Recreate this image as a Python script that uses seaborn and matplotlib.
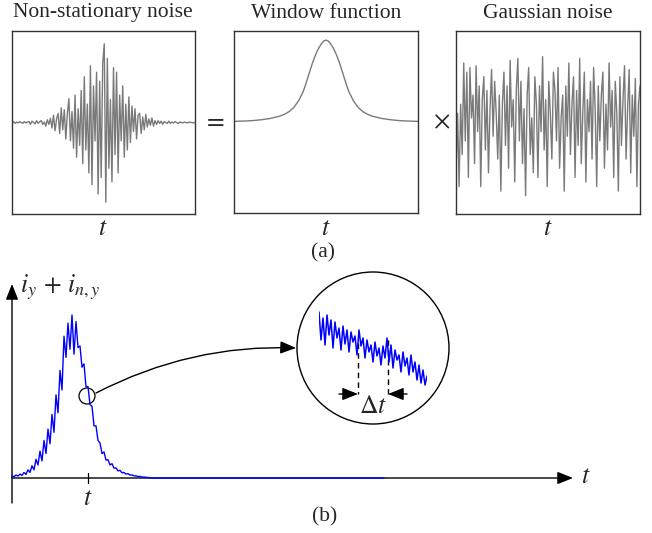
import matplotlib
matplotlib.use("Agg")
import matplotlib.pyplot as plt
import seaborn as sns
import numpy as np
import pandas as pd
from matplotlib.patches import Circle, FancyArrowPatch
from matplotlib.path import Path

# ---- data ----
# (a) non-stationary noise, 120 samples over the window
nonstat_noise = [
    0.00, 0.01, -0.01, 0.005, -0.005, 0.01, 0.00, -0.01, 0.01, -0.005, 0.005, 0.01,
    -0.02, 0.015, 0.00, -0.015, 0.02, -0.01, 0.01, 0.02, -0.02, 0.005,
    -0.04, 0.03, -0.02, 0.045,
    -0.06, 0.08, -0.09, 0.04, 0.10,
    -0.12, 0.16, -0.08, 0.14, -0.18, 0.10,
    0.26, -0.20, 0.12, -0.28,
    0.30, -0.38, 0.15, -0.25, 0.35,
    -0.45, 0.50, -0.30, 0.20, -0.55,
    0.62, -0.68, 0.40, -0.20, 0.55,
    -0.78, 0.45, -0.60, 0.65, 0.86, -0.87,
    0.70, -0.50, 0.25, -0.65, 0.60,
    -0.35, 0.55, -0.55, 0.30, -0.20,
    0.40, -0.38, 0.20, -0.30, 0.28,
    -0.22, 0.18, -0.10, 0.15, -0.18, 0.08,
    0.10, -0.12, 0.06, -0.08, 0.09,
    -0.05, 0.04, -0.03, 0.05, -0.04, 0.02,
    -0.02, 0.02, -0.01, 0.015, -0.02, 0.01, 0.00, -0.01, 0.015, -0.01,
    0.005, -0.005, 0.01, 0.00, -0.01, 0.005, 0.00, -0.005, 0.005, 0.00,
    -0.005, 0.005, 0.00, 0.00, -0.005, 0.00,
]

# (a) window function, left half (t, value); mirrored for the right half
window_t_left = [-1.0, -0.9, -0.8, -0.7, -0.6, -0.5, -0.45, -0.4, -0.35, -0.3,
                 -0.275, -0.25, -0.225, -0.2, -0.175, -0.15, -0.125, -0.1,
                 -0.075, -0.05, -0.025, 0.0]
window_v_left = [0.007, 0.010, 0.015, 0.025, 0.040, 0.065, 0.085, 0.115, 0.16, 0.23,
                 0.28, 0.33, 0.40, 0.48, 0.56, 0.64, 0.71, 0.77,
                 0.82, 0.86, 0.89, 0.90]

# (a) gaussian noise, 120 samples
gauss_noise = [
    -0.55, 0.10, -0.70, 0.20, -0.35, 0.65, -0.20, 0.55, -0.60, 0.60,
    0.05, 0.30, -0.45, 0.62, -0.10, 0.40, -0.70, 0.25, 0.50, -0.30,
    0.35, -0.55, 0.15, 0.58, -0.15, 0.45, 0.10, -0.40, 0.30, -0.75,
    0.20, 0.55, -0.25, 0.40, -0.50, 0.68, -0.05, 0.25, -0.65, 0.35,
    0.70, -0.20, 0.45, -0.45, 0.15, -0.80, 0.30, 0.60, -0.35, 0.05,
    -0.55, 0.50, 0.20, -0.60, 0.40, -0.10, 0.72, -0.30, 0.25, -0.70,
    0.45, 0.10, -0.40, 0.55, 0.35, -0.20, 0.60, -0.50, 0.05, 0.30,
    -0.75, 0.40, -0.15, 0.65, -0.35, 0.20, 0.50, -0.60, 0.35, -0.25,
    0.70, -0.45, 0.10, 0.55, -0.65, 0.25, -0.10, 0.45, -0.40, 0.60,
    0.15, -0.70, 0.40, -0.20, 0.30, 0.55, -0.50, 0.20, -0.30, 0.65,
    -0.05, 0.35, -0.60, 0.45, 0.10, -0.75, 0.50, -0.25, 0.25, 0.62,
    -0.40, 0.15, 0.58, -0.55, 0.30, -0.15, 0.48, -0.70, 0.20, 0.40,
]

# (b) current pulse i_y + i_{n,y} (normalised to peak), then flat tail
pulse = [
    0.012, 0.008, 0.018, 0.012, 0.024, 0.016, 0.034, 0.022, 0.050, 0.034,
    0.075, 0.050, 0.115, 0.080, 0.165, 0.105, 0.230, 0.150, 0.300, 0.210,
    0.390, 0.280, 0.510, 0.400, 0.660, 0.540, 0.870, 0.740, 0.950, 0.790,
    1.000, 0.760, 0.960, 0.800, 0.810, 0.680, 0.700, 0.560, 0.560, 0.450,
    0.440, 0.320, 0.320, 0.230, 0.215, 0.150, 0.160, 0.110, 0.112, 0.080,
    0.088, 0.060, 0.062, 0.044, 0.047, 0.032, 0.034, 0.024, 0.027, 0.018,
    0.019, 0.013, 0.013, 0.009, 0.010, 0.006, 0.006, 0.004, 0.003, 0.002, 0.0,
]
tail_end = 186
tick_t = 38

# (b) zoomed segment of the pulse
zoom_trace = [
    0.88, 0.60, 0.82, 0.55, 0.85, 0.65, 0.80, 0.52, 0.78, 0.62,
    0.72, 0.50, 0.74, 0.56, 0.70, 0.48, 0.68, 0.58, 0.64, 0.45,
    0.70, 0.54, 0.62, 0.42, 0.60, 0.48, 0.55, 0.38, 0.58, 0.44,
    0.52, 0.35, 0.54, 0.42, 0.62, 0.38, 0.55, 0.32, 0.50, 0.40,
    0.45, 0.28, 0.48, 0.34, 0.42, 0.25, 0.45, 0.28, 0.38, 0.20,
    0.35, 0.17, 0.30, 0.15, 0.24,
]

# ---- figure ----
W, H = 652, 533
sns.set_theme(style="white")
plt.rcParams["font.family"] = ["Liberation Serif", "DejaVu Serif"]
plt.rcParams["mathtext.fontset"] = "stix"

fig = plt.figure(figsize=(W / 100, H / 100), dpi=100)
FS = 15.5
MFS = 18.5
GRAY = "#7a7a7a"


def px_axes(x0, y0, x1, y1):
    return fig.add_axes([x0 / W, 1 - y1 / H, (x1 - x0) / W, (y1 - y0) / H])


# overlay in pixel coordinates for annotations
ov = px_axes(0, 0, W, H)
ov.set_xlim(0, W)
ov.set_ylim(H, 0)
ov.axis("off")
ov.set_zorder(0)


def framed(ax):
    ax.set_xticks([])
    ax.set_yticks([])
    ax.set_xlabel("")
    ax.set_ylabel("")
    for s in ax.spines.values():
        s.set_visible(True)
        s.set_color("#333333")
        s.set_linewidth(1.0)
    ax.set_ylim(-1, 1)


# (a) three boxes
ax1 = px_axes(12, 31, 195, 214)
df1 = pd.DataFrame({"t": np.arange(len(nonstat_noise)), "v": nonstat_noise})
sns.lineplot(data=df1, x="t", y="v", ax=ax1, color=GRAY, lw=1.0, estimator=None)
ax1.set_xlim(0, len(nonstat_noise) - 1)
framed(ax1)

window_t = window_t_left + [-t for t in reversed(window_t_left[:-1])]
window_v = window_v_left + list(reversed(window_v_left[:-1]))
ax2 = px_axes(234, 31, 418, 213)
sns.lineplot(x=window_t, y=window_v, ax=ax2, color=GRAY, lw=1.0, estimator=None)
ax2.set_xlim(-1, 1)
framed(ax2)

ax3 = px_axes(456, 31, 640, 214)
df3 = pd.DataFrame({"t": np.arange(len(gauss_noise)), "v": gauss_noise})
sns.lineplot(data=df3, x="t", y="v", ax=ax3, color=GRAY, lw=1.0, estimator=None)
ax3.set_xlim(0, len(gauss_noise) - 1)
framed(ax3)

titles = ["Non-stationary noise", "Window function", "Gaussian noise"]
for cx, title in zip([103, 326, 548], titles):
    ov.text(cx, 13, title, ha="center", va="center", fontsize=FS)
    ov.text(cx, 229, "$t$", ha="center", va="center", fontsize=MFS)
ov.text(214, 121, "$=$", ha="center", va="center", fontsize=MFS)
ov.text(442, 122, r"$\times$", ha="center", va="center", fontsize=MFS)
ov.text(323, 253, "(a)", ha="center", va="center", fontsize=FS)

# (b) axes arrows
arrow_kw = dict(arrowstyle="-|>,head_length=0.95,head_width=0.38", color="black",
                lw=1.0, shrinkA=0, shrinkB=0, mutation_scale=10)
ov.annotate("", xy=(12, 284), xytext=(12, 503), arrowprops=arrow_kw)
ov.annotate("", xy=(573, 478), xytext=(12, 478), arrowprops=arrow_kw)
ov.plot([88, 88], [473, 483], color="black", lw=0.9)
ov.text(88, 499, "$t$", ha="center", va="center", fontsize=MFS)
ov.text(586, 477, "$t$", ha="center", va="center", fontsize=MFS)
ov.text(20, 287, r"$i_y\,+\,i_{n,y}$", ha="left", va="center", fontsize=MFS)
ov.text(325, 517, "(b)", ha="center", va="center", fontsize=FS)

# (b) pulse
axb = px_axes(12, 315, 572, 478)
pt = list(range(len(pulse))) + [tail_end]
pv = pulse + [0.0]
sns.lineplot(x=pt, y=pv, ax=axb, color="blue", lw=1.0, estimator=None)
axb.set_xlim(0, 280)
axb.set_ylim(0, 1)
axb.axis("off")
axb.set_zorder(1)
for line in axb.lines:
    line.set_clip_on(False)

# small circle and curved arrow to the magnified view
ov.add_patch(Circle((87, 396), 8, fill=False, ec="black", lw=0.9))
curve = Path([(96, 393), (191, 344), (296, 348)],
             [Path.MOVETO, Path.CURVE3, Path.CURVE3])
ov.add_patch(FancyArrowPatch(path=curve, arrowstyle="-|>,head_length=0.95,head_width=0.38",
                             mutation_scale=10, color="black", lw=1.0))
ov.add_patch(Circle((373, 348), 76, fill=False, ec="black", lw=1.0))

# magnified trace
axz = px_axes(319, 300, 427, 400)
sns.lineplot(x=np.arange(len(zoom_trace)), y=zoom_trace, ax=axz, color="blue",
             lw=1.1, estimator=None)
axz.set_xlim(0, len(zoom_trace) - 1)
axz.set_ylim(0, 1)
axz.axis("off")
axz.set_zorder(1)

# delta t markers
ov.plot([358, 358], [343, 394], color="black", lw=1.0, ls=(0, (4, 3)))
ov.plot([388, 388], [340, 394], color="black", lw=1.0, ls=(0, (4, 3)))
ov.annotate("", xy=(358, 394), xytext=(339, 394), arrowprops=arrow_kw)
ov.annotate("", xy=(388, 394), xytext=(407, 394), arrowprops=arrow_kw)
ov.text(373, 407, r"$\Delta t$", ha="center", va="center", fontsize=MFS)

fig.savefig("out.png", dpi=100)
plt.close(fig)
